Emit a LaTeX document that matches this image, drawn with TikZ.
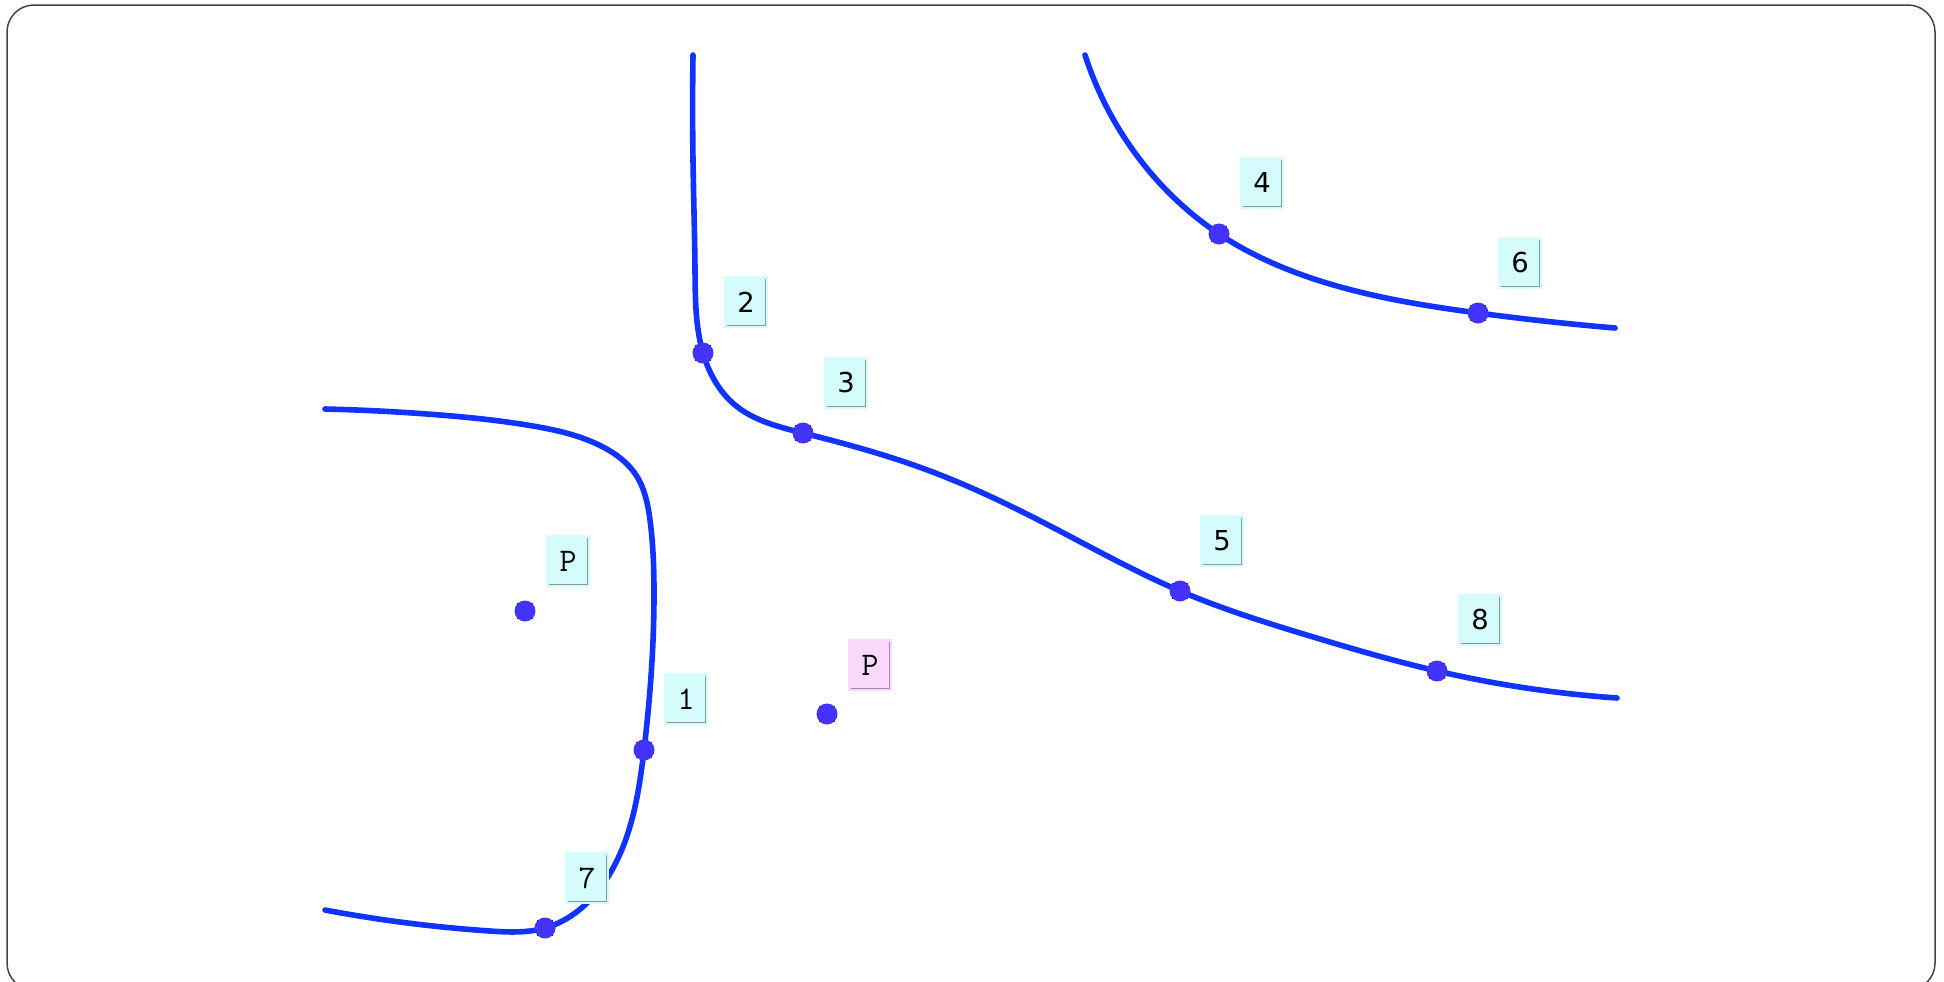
\documentclass[tikz,border=0pt]{standalone}
\usepackage{fontspec}
\newfontfamily\sansf{DejaVu Sans}
\usetikzlibrary{hobby}
\definecolor{curveblue}{HTML}{1133FF}
\definecolor{dotblue}{HTML}{4433FF}
\definecolor{cyanfill}{HTML}{D4FCFC}
\definecolor{pinkfill}{HTML}{FCD8FC}
\definecolor{framegray}{HTML}{444444}
\definecolor{shadegray}{HTML}{8A9A9A}
\definecolor{shadepink}{HTML}{A08CA0}
\tikzset{
  curve/.style={curveblue, line width=2.8pt, line cap=round, line join=round},
  dotfill/.style={circle, fill=dotblue, inner sep=0pt, minimum size=10.5pt},
  lab/.style={fill=cyanfill, inner sep=0pt, minimum width=22pt, minimum height=26pt},
  labpink/.style={lab, fill=pinkfill},
  shade/.style={shadegray, line width=0.6pt},
  sansd/.style={font=\sansf\fontsize{13.7}{16}\selectfont},
  monod/.style={font=\ttfamily\fontsize{16.5}{20}\selectfont},
}
\begin{document}
\begin{tikzpicture}[x=0.5pt, y=-0.5pt]
\useasboundingbox (0,0) rectangle (1944,981);
\draw[framegray, line width=0.75pt, rounded corners=13.5pt] (7,5) rectangle (1935,990);

% curves
\draw[curve] (325,409) to[curve through={(440,415) (533,426) (603,447) (636,475) (650,520) (654,590) (644,750) (612,870) (545,928) (490,931)}] (325,910);
\draw[curve] (693,55) to[curve through={(693,160) (695,270) (703,353) (735,405) (803,433) (930,471) (1054,528) (1180,591) (1310,636) (1437,671)}] (1617,698);
\draw[curve] (1085,55) to[curve through={(1141,161) (1219,234) (1330,284) (1478,313)}] (1615,328);

% dots: black square underlay, blue disc on top
\foreach \nm/\xx/\yy in {d1/644/750, d2/703/353, d3/803/433, d4/1219/234, d5/1180/591, d6/1478/313, d7/545/928, d8/1437/671, p1/525/611, p2/827/714}{
  \fill[black] (\xx,\yy) ++(-4pt,-4pt) rectangle ++(8pt,8pt);
  \node[dotfill] (\nm) at (\xx,\yy) {};
}

% labels
\node[lab, monod] (l1) at (686,699) {1};
\node[lab, sansd] (l2) at (746,302) {2};
\node[lab, sansd] (l3) at (846,383) {3};
\node[lab, sansd] (l4) at (1262,183) {4};
\node[lab, sansd] (l5) at (1222,541) {5};
\node[lab, sansd] (l6) at (1520,263) {6};
\node[lab, monod] (l7) at (587,878) {7};
\node[lab, sansd] (l8) at (1480,620) {8};
\node[lab, monod] (lp1) at (568,561) {P};
\node[labpink, monod] (lp2) at (870,665) {P};

\foreach \n in {l1,l2,l3,l4,l5,l6,l7,l8,lp1}{
  \draw[shade] ([xshift=1.5pt,yshift=1.5pt]\n.south west) -- ([xshift=-1.5pt,yshift=1.5pt]\n.south east) -- ([xshift=-1.5pt,yshift=-1.5pt]\n.north east);
}
\draw[shade, shadepink] ([xshift=1.5pt,yshift=1.5pt]lp2.south west) -- ([xshift=-1.5pt,yshift=1.5pt]lp2.south east) -- ([xshift=-1.5pt,yshift=-1.5pt]lp2.north east);
\end{tikzpicture}
\end{document}
